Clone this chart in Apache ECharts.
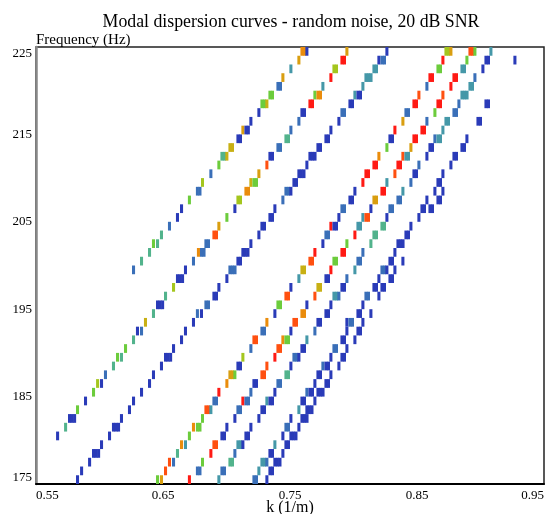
<!DOCTYPE html>
<html>
<head>
<meta charset="utf-8">
<title>Modal dispersion curves</title>
<script src="https://cdn.jsdelivr.net/npm/echarts@6/dist/echarts.min.js"></script>
<style>
  html, body { margin: 0; padding: 0; background: #fff; }
  #chart { width: 549px; height: 514px; }
</style>
</head>
<body>
<div id="chart"></div>
<script>
// 每个格子: [k (1/m), 频率下沿 (Hz), 幅值等级 0..9]
const xTicks = [0.55, 0.65, 0.75, 0.85, 0.95];
const yTicks = [175, 185, 195, 205, 215, 225];

const modeP = [
  [0.7582,224,7],[0.7602,224,7],[0.7621,224,0],[0.7558,223,6.5],[0.7495,222,2],[0.7432,221,6.5],
  [0.7393,220,1],[0.7413,220,1],[0.7330,219,4],[0.7350,219,4],[0.7267,218,4],[0.7287,218,4],[0.7306,218,6],
  [0.7243,217,0],[0.7180,216,0],[0.7117,215,6.5],[0.7141,215,0],[0.7160,215,0],[0.7078,214,0],[0.7098,214,0],
  [0.7015,213,6],[0.7035,213,6],[0.6952,212,3],[0.6972,212,3],[0.6991,212,6],[0.6928,211,4],[0.6865,210,1],
  [0.6799,209,5],[0.6759,208,1],[0.6779,208,1],[0.6696,207,4],[0.6634,206,0],[0.6602,205,0],[0.6539,204,1],
  [0.6476,203,3],[0.6413,202,4],[0.6445,202,3],[0.6382,201,3],[0.6319,200,3],[0.6256,199,1]
];

const modeQ = [
  [0.7936,224,6.5],[0.7897,223,9],[0.7917,223,9],[0.7834,222,5],[0.7854,222,5],[0.7810,221,9],[0.7747,220,2],
  [0.7684,219,4],[0.7708,219,7],[0.7728,219,7],[0.7645,218,9],[0.7665,218,9],[0.7582,217,0],[0.7602,217,0],
  [0.7558,216,1],[0.7495,215,1],[0.7456,214,3],[0.7476,214,3],[0.7393,213,1],[0.7413,213,1],[0.7330,212,0],
  [0.7350,212,0],[0.7306,211,8],[0.7243,210,6.5],[0.7180,209,6],[0.7204,209,4],[0.7224,209,4],[0.7141,208,7],
  [0.7161,208,7],[0.7078,207,5],[0.7098,207,5],[0.7054,206,0],[0.6991,205,4],[0.6928,204,6.5],[0.6889,203,8],
  [0.6909,203,8],[0.6826,202,1],[0.6846,202,1],[0.6767,201,7],[0.6791,201,1],[0.6811,201,1],[0.6728,200,1],
  [0.6665,199,0],[0.6602,198,0],[0.6622,198,0],[0.6642,198,0],[0.6571,197,5],[0.6508,196,3],[0.6445,195,0],
  [0.6465,195,0],[0.6485,195,0],[0.6413,194,3],[0.6350,193,6],[0.6287,192,0],[0.6319,192,1],[0.6256,191,3],
  [0.6193,190,4],[0.6130,189,4],[0.6161,189,3],[0.6098,188,3],[0.6035,187,1],[0.5973,186,5],[0.6004,186,0],
  [0.5941,185,4],[0.5878,184,0],[0.5815,183,4],[0.5752,182,0],[0.5772,182,0],[0.5792,182,0],[0.5721,181,3],
  [0.5658,180,0]
];

const modeR = [
  [0.8251,224,0],[0.8188,223,0],[0.8212,223,1],[0.8232,223,1],[0.8149,222,2],[0.8169,222,2],[0.8086,221,2],
  [0.8106,221,2],[0.8126,221,2],[0.8062,220,2],[0.7999,219,2],[0.8023,219,0],[0.8043,219,0],[0.7960,218,0],
  [0.7980,218,0],[0.7897,217,1],[0.7917,217,1],[0.7873,216,0],[0.7810,215,0],[0.7771,214,0],[0.7791,214,0],
  [0.7708,213,0],[0.7728,213,0],[0.7645,212,0],[0.7665,212,0],[0.7685,212,0],[0.7621,211,0],[0.7558,210,0],
  [0.7578,210,0],[0.7598,210,0],[0.7519,209,0],[0.7539,209,0],[0.7456,208,1],[0.7476,208,1],[0.7495,208,0],
  [0.7432,207,1],[0.7369,206,0],[0.7330,205,0],[0.7350,205,0],[0.7267,204,0],[0.7287,204,0],[0.7243,203,0],
  [0.7180,202,0],[0.7117,201,0],[0.7137,201,0],[0.7157,201,0],[0.7078,200,0],[0.7098,200,0],[0.7015,199,1],
  [0.7035,199,1],[0.7055,199,1],[0.6991,198,0],[0.6928,197,0],[0.6889,196,0],[0.6909,196,0],[0.6826,195,1],
  [0.6846,195,1],[0.6759,194,1],[0.6791,194,0],[0.6728,193,0],[0.6665,192,0],[0.6634,191,0],[0.6571,190,0],
  [0.6508,189,0],[0.6528,189,0],[0.6548,189,0],[0.6476,188,0],[0.6413,187,0],[0.6382,186,0],[0.6319,185,0],
  [0.6256,184,0],[0.6224,183,0],[0.6161,182,0],[0.6098,181,0],[0.6118,181,0],[0.6138,181,0],[0.6067,180,0],
  [0.6004,179,0],[0.5941,178,0],[0.5961,178,0],[0.5981,178,0],[0.5910,177,0],[0.5847,176,0],[0.5815,175,0]
];

const modeS = [
  [0.8716,224,5],[0.8736,224,5],[0.8755,224,6.5],[0.8692,223,9],[0.8653,222,4],[0.8673,222,4],[0.8590,221,9],
  [0.8610,221,9],[0.8566,220,1],[0.8503,219,8],[0.8464,218,9],[0.8484,218,9],[0.8401,217,1],[0.8421,217,1],
  [0.8377,216,6.5],[0.8314,215,9],[0.8275,214,0],[0.8295,214,0],[0.8251,213,4],[0.8188,212,7],[0.8149,211,9],
  [0.8169,211,9],[0.8086,210,9],[0.8106,210,9],[0.8062,209,9],[0.7999,208,0],[0.7960,207,0],[0.7980,207,0],
  [0.7897,206,1],[0.7917,206,1],[0.7873,205,0],[0.7810,204,9],[0.7834,204,0],[0.7854,204,0],[0.7771,203,1],
  [0.7791,203,1],[0.7747,202,0],[0.7684,201,9],[0.7645,200,8],[0.7665,200,8],[0.7582,199,6],[0.7602,199,6],
  [0.7558,198,2],[0.7495,197,0],[0.7456,196,8],[0.7476,196,8],[0.7393,195,4],[0.7413,195,4],[0.7369,194,0],
  [0.7306,193,7],[0.7267,192,1],[0.7287,192,1],[0.7204,191,8],[0.7224,191,8],[0.7180,190,1],[0.7117,189,5],
  [0.7078,188,0],[0.7098,188,0],[0.7015,187,6.5],[0.7035,187,6.5],[0.7054,187,4],[0.6991,186,7],[0.6928,185,9],
  [0.6889,184,1],[0.6909,184,1],[0.6826,183,8],[0.6846,183,8],[0.6865,183,2],[0.6799,182,4],[0.6728,181,7],
  [0.6759,181,4],[0.6779,181,4],[0.6696,180,4],[0.6634,179,7],[0.6665,179,2],[0.6602,178,3],[0.6539,177,8],
  [0.6571,177,1],[0.6508,176,8],[0.6445,175,4],[0.6476,175,6.5]
];

const modeT = [
  [0.8905,224,8],[0.8925,224,8],[0.8944,224,4],[0.8881,223,4],[0.8842,222,2],[0.8862,222,2],[0.8779,221,9],
  [0.8799,221,9],[0.8755,220,9],[0.8692,219,8],[0.8653,218,9],[0.8673,218,9],[0.8629,217,4],[0.8566,216,1],
  [0.8527,215,9],[0.8547,215,9],[0.8464,214,9],[0.8484,214,9],[0.8440,213,6.5],[0.8377,212,8],[0.8401,212,2],
  [0.8421,212,2],[0.8338,211,9],[0.8358,211,9],[0.8314,210,8],[0.8251,209,2],[0.8212,208,9],[0.8232,208,9],
  [0.8149,207,6.5],[0.8169,207,6.5],[0.8125,206,0],[0.8062,205,2],[0.8086,205,8],[0.8106,205,8],[0.8023,204,2],
  [0.8043,204,2],[0.7999,203,9],[0.7936,202,4],[0.7897,201,9],[0.7917,201,9],[0.7834,200,4],[0.7854,200,4],
  [0.7810,199,9],[0.7771,198,0],[0.7791,198,0],[0.7708,197,6],[0.7728,197,6],[0.7684,196,8],[0.7621,195,0],
  [0.7582,194,7],[0.7602,194,7],[0.7519,193,8],[0.7539,193,8],[0.7495,192,0],[0.7432,191,7],[0.7456,191,4],
  [0.7476,191,4],[0.7393,190,8],[0.7413,190,8],[0.7369,189,9],[0.7306,188,8],[0.7267,187,8],[0.7287,187,8],
  [0.7204,186,0],[0.7224,186,0],[0.7180,185,1],[0.7117,184,9],[0.7141,184,1],[0.7161,184,1],[0.7078,183,1],
  [0.7098,183,1],[0.7054,182,0],[0.6991,181,0],[0.6952,180,0],[0.6972,180,0],[0.6889,179,8],[0.6909,179,8],
  [0.6865,178,9],[0.6799,177,4],[0.6759,176,1],[0.6779,176,1],[0.6696,175,9]
];

const modeU = [
  [0.9070,224,2],[0.9031,223,0],[0.9051,223,0],[0.9007,222,0],[0.8944,221,1],[0.8905,220,2],[0.8925,220,2],
  [0.8842,219,2],[0.8862,219,2],[0.8882,219,2],[0.8818,218,1],[0.8779,217,1],[0.8799,217,1],[0.8716,216,2],
  [0.8736,216,2],[0.8692,215,2],[0.8629,214,1],[0.8653,214,2],[0.8673,214,2],[0.8590,213,0],[0.8610,213,0],
  [0.8566,212,0],[0.8503,211,1],[0.8464,210,0],[0.8484,210,0],[0.8440,209,1],[0.8377,208,2],[0.8338,207,1],
  [0.8358,207,1],[0.8275,206,1],[0.8295,206,1],[0.8251,205,0],[0.8212,204,3],[0.8232,204,3],[0.8149,203,3],
  [0.8169,203,3],[0.8125,202,3],[0.8062,201,1],[0.8023,200,1],[0.8043,200,1],[0.7999,199,2],[0.7936,198,1],
  [0.7897,197,0],[0.7917,197,0],[0.7834,196,2],[0.7854,196,2],[0.7873,196,1],[0.7810,195,0],[0.7771,194,0],
  [0.7791,194,0],[0.7708,193,0],[0.7728,193,0],[0.7684,192,1],[0.7621,191,2],[0.7582,190,0],[0.7602,190,0],
  [0.7519,189,1],[0.7539,189,1],[0.7558,189,0],[0.7495,188,0],[0.7456,187,3],[0.7476,187,3],[0.7393,186,1],
  [0.7413,186,1],[0.7369,185,0],[0.7306,184,2],[0.7330,184,0],[0.7350,184,0],[0.7267,183,0],[0.7287,183,0],
  [0.7243,182,0],[0.7180,181,0],[0.7141,180,0],[0.7161,180,0],[0.7078,179,2],[0.7098,179,2],[0.7117,179,0],
  [0.7054,178,1],[0.7015,177,3],[0.7035,177,3],[0.6952,176,1],[0.6972,176,1],[0.6928,175,2]
];

const modeV = [
  [0.9259,223,0],[0.9031,218,0],[0.9051,218,0],[0.8968,216,0],[0.8988,216,0],[0.8881,214,0],[0.8842,213,0],
  [0.8862,213,0],[0.8779,212,0],[0.8799,212,0],[0.8755,211,0],[0.8692,210,0],[0.8653,209,0],[0.8673,209,0],
  [0.8629,208,0],[0.8566,207,0],[0.8527,206,0],[0.8547,206,0],[0.8503,205,0],[0.8440,204,0],[0.8401,203,0],
  [0.8421,203,0],[0.8338,202,0],[0.8358,202,0],[0.8378,202,0],[0.8314,201,0],[0.8275,200,0],[0.8295,200,0],
  [0.8212,199,1],[0.8232,199,1],[0.8251,199,0],[0.8188,198,0],[0.8149,197,0],[0.8169,197,0],[0.8086,196,1],
  [0.8106,196,1],[0.8062,195,0],[0.8023,194,0],[0.8043,194,0],[0.7936,193,0],[0.7960,193,1],[0.7980,193,1],
  [0.7936,192,0],[0.7897,191,0],[0.7917,191,0],[0.7834,190,1],[0.7854,190,1],[0.7810,189,0],[0.7747,188,1],
  [0.7771,188,0],[0.7791,188,0],[0.7708,187,0],[0.7728,187,0],[0.7684,186,0],[0.7621,185,1],[0.7645,185,0],
  [0.7665,185,0],[0.7582,184,0],[0.7602,184,0],[0.7558,183,2],[0.7495,182,0],[0.7456,181,1],[0.7476,181,1],
  [0.7432,180,0],[0.7369,179,2],[0.7330,178,0],[0.7350,178,0],[0.7267,177,2],[0.7287,177,2],[0.7306,177,1],
  [0.7243,176,2],[0.7204,175,1],[0.7224,175,1]
];

const modeW = [
  [0.8692,208,0],[0.8653,207,0],[0.8673,207,0],[0.8590,206,0],[0.8610,206,0],[0.8377,200,0],[0.8314,199,0],
  [0.8275,198,0],[0.8295,198,0],[0.8212,197,0],[0.8232,197,0],[0.8188,196,0],[0.8125,194,0],[0.8062,193,0],
  [0.8023,192,0],[0.8043,192,0],[0.7999,191,0],[0.7936,190,0],[0.7897,189,0],[0.7917,189,0],[0.7873,188,0],
  [0.7810,187,0],[0.7771,186,0],[0.7791,186,0],[0.7708,185,0],[0.7728,185,0],[0.7748,185,0],[0.7684,184,0],
  [0.7621,183,0],[0.7641,183,0],[0.7661,183,0],[0.7582,182,0],[0.7602,182,0],[0.7622,182,0],[0.7558,181,0],
  [0.7495,180,0],[0.7515,180,0],[0.7535,180,0],[0.7456,179,0],[0.7476,179,0],[0.7432,178,0],[0.7369,177,0],
  [0.7389,177,0],[0.7409,177,0],[0.7330,176,0],[0.7350,176,0],[0.7306,175,0]
];

const modes = [modeP, modeQ, modeR, modeS, modeT, modeU, modeV, modeW];

// 色标: 蓝 -> 青 -> 绿 -> 黄 -> 橙 -> 红
const levelColors = ['#2a3bb8', '#3a6fb8', '#4598a8', '#52b38c', '#6ccc3c',
                     '#a4c61e', '#c8b014', '#ea8c0c', '#ff5010', '#ff1a14'];

const CELL_K = 0.0024;   // 一个 k 格子的宽度
const CELL_F = 1;        // 一个频率格子的高度

const serif = '"Liberation Serif", "DejaVu Serif", serif';

function renderCell(params, api) {
  const k = api.value(0);
  const f = api.value(1);
  const p0 = api.coord([k, f + CELL_F]);
  const p1 = api.coord([k + CELL_K, f]);
  return {
    type: 'rect',
    shape: { x: p0[0], y: p0[1], width: p1[0] - p0[0], height: p1[1] - p0[1] },
    style: { fill: api.visual('color') }
  };
}

const chart = echarts.init(document.getElementById('chart'));

chart.setOption({
  animation: false,
  title: {
    text: 'Modal dispersion curves - random noise, 20 dB SNR',
    left: 286,
    textAlign: 'center',
    top: 8,
    textStyle: { fontFamily: serif, fontSize: 17.8, fontWeight: 'normal', color: '#000' }
  },
  grid: {
    left: 36, right: 5, top: 47, bottom: 30,
    outerBoundsMode: 'none',
    containLabel: false,
    show: true, borderColor: '#222', borderWidth: 1.5, backgroundColor: '#fff'
  },
  visualMap: {
    show: false,
    type: 'continuous',
    dimension: 2,
    min: 0,
    max: 9,
    inRange: { color: levelColors }
  },
  xAxis: {
    type: 'value',
    min: xTicks[0],
    max: xTicks[xTicks.length - 1],
    interval: 0.1,
    name: 'k (1/m)',
    nameLocation: 'middle',
    nameGap: 16,
    nameMoveOverlap: false,
    nameTextStyle: { fontFamily: serif, fontSize: 16, color: '#000' },
    axisLine: { show: true, lineStyle: { color: '#000', width: 2 } },
    axisTick: { show: false },
    splitLine: { show: false },
    axisLabel: {
      fontFamily: serif, fontSize: 13, color: '#000', margin: 5,
      alignMinLabel: 'left', alignMaxLabel: 'right',
      formatter: v => v.toFixed(2)
    }
  },
  yAxis: {
    type: 'value',
    min: yTicks[0],
    max: yTicks[yTicks.length - 1],
    interval: 10,
    name: 'Frequency (Hz)',
    nameLocation: 'end',
    nameGap: -1,
    nameMoveOverlap: false,
    nameTextStyle: { fontFamily: serif, fontSize: 15, color: '#000', align: 'left', verticalAlign: 'bottom' },
    axisLine: { show: true, lineStyle: { color: '#888', width: 2.5 } },
    axisTick: { show: false },
    splitLine: { show: false },
    axisLabel: {
      fontFamily: serif, fontSize: 13, color: '#000', margin: 4,
      verticalAlignMinLabel: 'bottom', verticalAlignMaxLabel: 'top'
    }
  },
  series: modes.map(d => ({
    type: 'custom',
    renderItem: renderCell,
    encode: { x: 0, y: 1 },
    data: d
  }))
});

window.addEventListener('resize', () => chart.resize());
</script>
</body>
</html>
